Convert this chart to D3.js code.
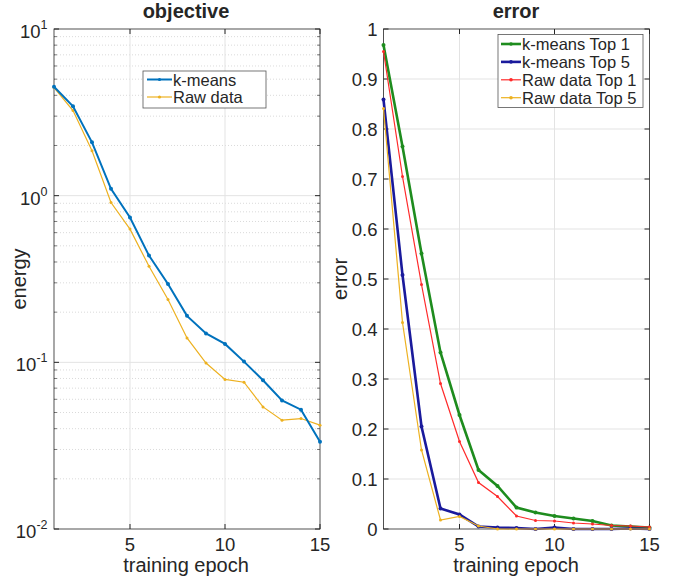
<!DOCTYPE html>
<html>
<head>
<meta charset="utf-8">
<script src="https://cdn.jsdelivr.net/npm/d3@7"></script>
<style>
  body { margin: 0; background: #fff; }
  text { font-family: "Liberation Sans", Arial, Helvetica, sans-serif; fill: #262626; }
</style>
</head>
<body>
<div id="chart"></div>
<script>
// epochs shared by both panels
const epochs = d3.range(1, 16);

// objective panel (log scale)
const kmeansEnergy = [4.5, 3.44, 2.09, 1.1, 0.74, 0.437, 0.295, 0.19, 0.149, 0.129, 0.101, 0.078, 0.059, 0.052, 0.0334];
const rawEnergy    = [4.45, 3.24, 1.86, 0.91, 0.63, 0.377, 0.238, 0.14, 0.099, 0.079, 0.076, 0.054, 0.045, 0.046, 0.042];

// error panel
const kmeansTop1 = [0.968, 0.765, 0.551, 0.353, 0.228, 0.118, 0.086, 0.043, 0.033, 0.026, 0.021, 0.016, 0.007, 0.005, 0.003];
const kmeansTop5 = [0.859, 0.508, 0.205, 0.041, 0.029, 0.005, 0.003, 0.002, 0.0, 0.003, 0.0, 0.0, 0.0, 0.001, 0.0];
const rawTop1    = [0.955, 0.705, 0.489, 0.291, 0.175, 0.093, 0.065, 0.026, 0.017, 0.016, 0.012, 0.01, 0.007, 0.006, 0.004];
const rawTop5    = [0.841, 0.413, 0.158, 0.018, 0.025, 0.006, 0.0, 0.0, 0.0, 0.0, 0.0, 0.0, 0.0, 0.0, 0.0];

const xTicks = [5, 10, 15];
const errTicks = d3.range(0, 1.01, 0.1);

const width = 681, height = 578;
const svg = d3.select("#chart").append("svg")
    .attr("width", width)
    .attr("height", height);

const plotTop = 29, plotBottom = 529;
const axisColor = "#262626", gridColor = "#e3e3e3";
const tickFont = "18.5px", labelFont = "20px", titleFont = "20px";

function panel(left, right) {
    const g = svg.append("g");
    const x = d3.scaleLinear().domain([1, 15]).range([left, right]);
    return { g, x };
}

// ---------- left: objective ----------
{
    const { g, x } = panel(54, 320);
    const y = d3.scaleLog().domain([0.01, 10]).range([plotBottom, plotTop]);

    // minor dotted grid
    const minor = [];
    [0.01, 0.1, 1].forEach(d => { for (let k = 2; k <= 9; k++) minor.push(d * k); });
    g.selectAll(".minor").data(minor).enter().append("line")
        .attr("x1", 54).attr("x2", 320)
        .attr("y1", d => y(d)).attr("y2", d => y(d))
        .attr("stroke", "#d0d0d0").attr("stroke-width", 0.8)
        .attr("stroke-dasharray", "1,2");
    // major grid
    g.selectAll(".majy").data([0.1, 1]).enter().append("line")
        .attr("x1", 54).attr("x2", 320)
        .attr("y1", d => y(d)).attr("y2", d => y(d))
        .attr("stroke", gridColor);
    g.selectAll(".majx").data([5, 10]).enter().append("line")
        .attr("x1", d => x(d)).attr("x2", d => x(d))
        .attr("y1", plotTop).attr("y2", plotBottom)
        .attr("stroke", gridColor);

    // box
    g.append("rect").attr("x", 54).attr("y", plotTop).attr("width", 266).attr("height", plotBottom - plotTop)
        .attr("fill", "none").attr("stroke", axisColor).attr("stroke-width", 0.8);

    // ticks (inward, both sides)
    [0.01, 0.1, 1, 10].forEach(d => {
        g.append("line").attr("x1", 54).attr("x2", 59).attr("y1", y(d)).attr("y2", y(d)).attr("stroke", axisColor);
        g.append("line").attr("x1", 315).attr("x2", 320).attr("y1", y(d)).attr("y2", y(d)).attr("stroke", axisColor);
    });
    minor.forEach(d => {
        g.append("line").attr("x1", 54).attr("x2", 57).attr("y1", y(d)).attr("y2", y(d)).attr("stroke", axisColor).attr("stroke-width", 0.6);
        g.append("line").attr("x1", 317).attr("x2", 320).attr("y1", y(d)).attr("y2", y(d)).attr("stroke", axisColor).attr("stroke-width", 0.6);
    });
    xTicks.forEach(d => {
        g.append("line").attr("x1", x(d)).attr("x2", x(d)).attr("y1", plotBottom).attr("y2", plotBottom - 5).attr("stroke", axisColor);
        g.append("line").attr("x1", x(d)).attr("x2", x(d)).attr("y1", plotTop).attr("y2", plotTop + 5).attr("stroke", axisColor);
    });

    // y tick labels 10^k
    [-2, -1, 0, 1].forEach(k => {
        const t = g.append("text").attr("x", 47.5).attr("y", y(Math.pow(10, k)) + 9)
            .attr("text-anchor", "end").style("font-size", tickFont);
        t.append("tspan").text("10");
        t.append("tspan").attr("dy", -9).style("font-size", "12.5px").text(k);
    });
    // x tick labels
    g.selectAll(".xl").data(xTicks).enter().append("text")
        .attr("x", d => x(d)).attr("y", 551)
        .attr("text-anchor", "middle").style("font-size", tickFont)
        .text(d => d);

    g.append("text").attr("x", 186).attr("y", 572).attr("text-anchor", "middle")
        .style("font-size", labelFont).text("training epoch");
    g.append("text").attr("transform", "translate(26,279) rotate(-90)").attr("text-anchor", "middle")
        .style("font-size", labelFont).text("energy");
    g.append("text").attr("x", 186).attr("y", 18).attr("text-anchor", "middle")
        .style("font-size", titleFont).style("font-weight", "bold").text("objective");

    const line = d3.line().x((d, i) => x(epochs[i])).y(d => y(d));
    const series = [
        { v: kmeansEnergy, c: "#0072BD", w: 2, name: "k-means" },
        { v: rawEnergy, c: "#EDB120", w: 1.2, name: "Raw data" }
    ];
    series.slice().reverse().forEach(s => {
        g.append("path").datum(s.v).attr("d", line).attr("fill", "none")
            .attr("stroke", s.c).attr("stroke-width", s.w);
        g.selectAll(null).data(s.v).enter().append("circle")
            .attr("cx", (d, i) => x(epochs[i])).attr("cy", d => y(d))
            .attr("r", s.w > 1.5 ? 2 : 1.5).attr("fill", s.c);
    });

    // legend
    const lg = g.append("g");
    lg.append("rect").attr("x", 143).attr("y", 71).attr("width", 123).attr("height", 37)
        .attr("fill", "#fff").attr("stroke", "#555").attr("stroke-width", 0.8);
    series.forEach((s, i) => {
        const yy = 79.5 + i * 17.5;
        lg.append("line").attr("x1", 147).attr("x2", 172).attr("y1", yy).attr("y2", yy)
            .attr("stroke", s.c).attr("stroke-width", s.w);
        lg.append("circle").attr("cx", 159.5).attr("cy", yy).attr("r", 1.6).attr("fill", s.c);
        lg.append("text").attr("x", 173).attr("y", yy + 6).style("font-size", "16.5px").text(s.name);
    });
}

// ---------- right: error ----------
{
    const { g, x } = panel(383.5, 649.5);
    const y = d3.scaleLinear().domain([0, 1]).range([plotBottom, plotTop]);

    g.selectAll(".gy").data(errTicks.slice(1, -1)).enter().append("line")
        .attr("x1", 383.5).attr("x2", 649.5)
        .attr("y1", d => y(d)).attr("y2", d => y(d))
        .attr("stroke", gridColor);
    g.selectAll(".gx").data([5, 10]).enter().append("line")
        .attr("x1", d => x(d)).attr("x2", d => x(d))
        .attr("y1", plotTop).attr("y2", plotBottom)
        .attr("stroke", gridColor);

    g.append("rect").attr("x", 383.5).attr("y", plotTop).attr("width", 266).attr("height", plotBottom - plotTop)
        .attr("fill", "none").attr("stroke", axisColor).attr("stroke-width", 0.8);

    errTicks.forEach(d => {
        g.append("line").attr("x1", 383.5).attr("x2", 388.5).attr("y1", y(d)).attr("y2", y(d)).attr("stroke", axisColor);
        g.append("line").attr("x1", 644.5).attr("x2", 649.5).attr("y1", y(d)).attr("y2", y(d)).attr("stroke", axisColor);
    });
    xTicks.forEach(d => {
        g.append("line").attr("x1", x(d)).attr("x2", x(d)).attr("y1", plotBottom).attr("y2", plotBottom - 5).attr("stroke", axisColor);
        g.append("line").attr("x1", x(d)).attr("x2", x(d)).attr("y1", plotTop).attr("y2", plotTop + 5).attr("stroke", axisColor);
    });

    g.selectAll(".yl").data(errTicks).enter().append("text")
        .attr("x", 377.5).attr("y", d => y(d) + 6.5)
        .attr("text-anchor", "end").style("font-size", tickFont)
        .text(d => d3.format("~g")(+d.toFixed(1)));
    g.selectAll(".xl").data(xTicks).enter().append("text")
        .attr("x", d => x(d)).attr("y", 551)
        .attr("text-anchor", "middle").style("font-size", tickFont)
        .text(d => d);

    g.append("text").attr("x", 516).attr("y", 572).attr("text-anchor", "middle")
        .style("font-size", labelFont).text("training epoch");
    g.append("text").attr("transform", "translate(347,279) rotate(-90)").attr("text-anchor", "middle")
        .style("font-size", labelFont).text("error");
    g.append("text").attr("x", 516).attr("y", 18).attr("text-anchor", "middle")
        .style("font-size", titleFont).style("font-weight", "bold").text("error");

    const line = d3.line().x((d, i) => x(epochs[i])).y(d => y(d));
    const series = [
        { v: kmeansTop1, c: "#1E8C1E", w: 2.6, name: "k-means Top 1" },
        { v: kmeansTop5, c: "#1A1A9C", w: 2.6, name: "k-means Top 5" },
        { v: rawTop1, c: "#FF2A2A", w: 1.2, name: "Raw data Top 1" },
        { v: rawTop5, c: "#EDB120", w: 1.2, name: "Raw data Top 5" }
    ];
    series.forEach(s => {
        g.append("path").datum(s.v).attr("d", line).attr("fill", "none")
            .attr("stroke", s.c).attr("stroke-width", s.w);
        g.selectAll(null).data(s.v).enter().append("circle")
            .attr("cx", (d, i) => x(epochs[i])).attr("cy", d => y(d))
            .attr("r", s.w > 1.5 ? 2 : 1.5).attr("fill", s.c);
    });

    const lg = g.append("g");
    lg.append("rect").attr("x", 498).attr("y", 34.5).attr("width", 145).attr("height", 73)
        .attr("fill", "#fff").attr("stroke", "#555").attr("stroke-width", 0.8);
    series.forEach((s, i) => {
        const yy = 44 + i * 17.9;
        lg.append("line").attr("x1", 501).attr("x2", 521).attr("y1", yy).attr("y2", yy)
            .attr("stroke", s.c).attr("stroke-width", s.w);
        lg.append("circle").attr("cx", 511).attr("cy", yy).attr("r", 1.8).attr("fill", s.c);
        lg.append("text").attr("x", 522).attr("y", yy + 6).style("font-size", "16.5px").text(s.name);
    });
}
</script>
</body>
</html>
